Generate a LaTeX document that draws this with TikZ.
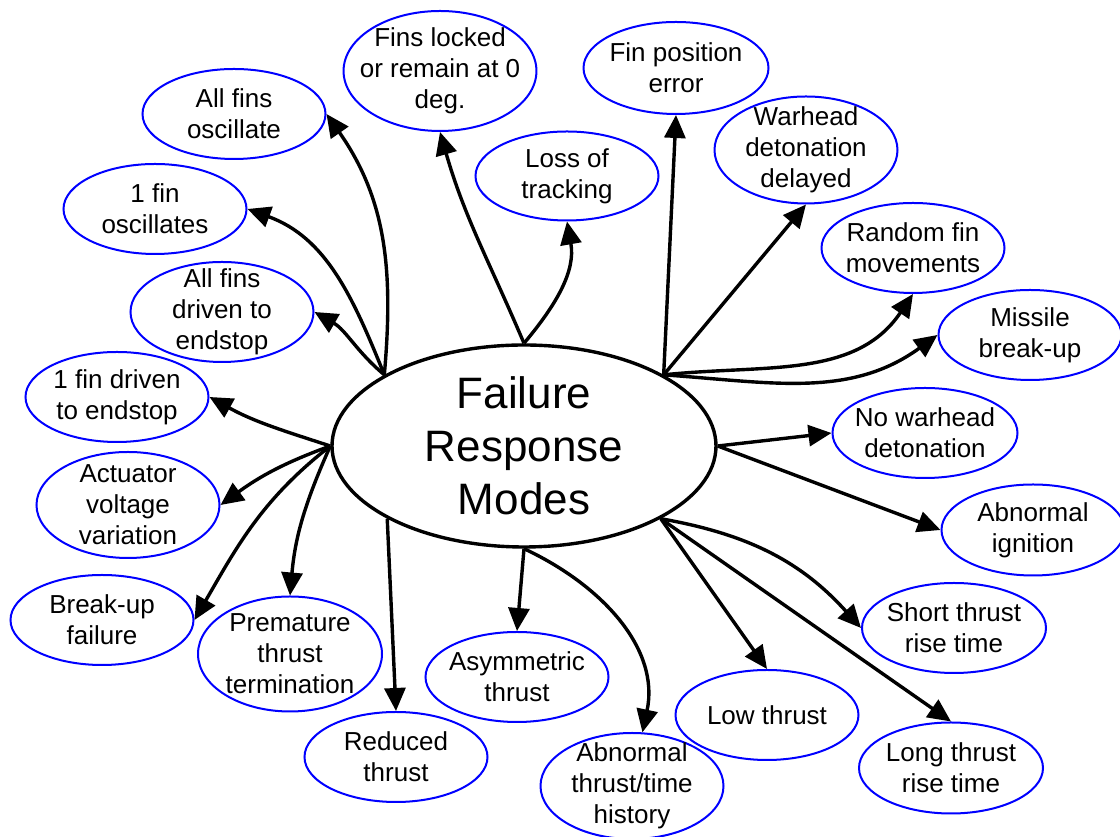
\documentclass[tikz,border=0pt]{standalone}
\usepackage{fontspec}
\setmainfont{Liberation Sans}
\usepackage{tikz}
\usetikzlibrary{shapes.geometric,arrows.meta}
\definecolor{ModeBlue}{HTML}{0000FF}

\begin{document}
\begin{tikzpicture}[x=1pt,y=1pt,
    mode/.style={ellipse, draw=ModeBlue, line width=2pt, inner xsep=-12pt, inner ysep=-10pt,
      minimum width=183pt, minimum height=90pt, align=center, font=\fontsize{26}{31}\selectfont},
    hub/.style={ellipse, draw, line width=3.4pt, inner sep=-10pt, minimum width=384pt,
      minimum height=202pt, align=center, font=\fontsize{44}{53}\selectfont},
    arr/.style={-{Triangle[length=23pt,width=21pt]}, line width=3.4pt}]
  \useasboundingbox (0,0) rectangle (1120,837);

  \node[hub] (fr) at (524,391) {Failure\\Response\\Modes};

  % upper half
  \node[mode, minimum width=192pt, minimum height=120pt] (locked) at (440,766) {Fins locked\\or remain at 0\\deg.};
  \node[mode, minimum width=185pt, minimum height=92pt] (finpos) at (676,769) {Fin position\\error};
  \node[mode] (allosc) at (234,723) {All fins\\oscillate};
  \node[mode] (onefin) at (155,628) {1 fin\\oscillates};
  \node[mode, minimum height=89pt] (track) at (567,661) {Loss of\\tracking};
  \node[mode, minimum height=107pt] (warhead) at (806,687) {Warhead\\detonation\\delayed};
  \node[mode] (random) at (913,589) {Random fin\\movements};
  \node[mode, minimum height=100pt] (alldriven) at (222,525) {All fins\\driven to\\endstop};
  \node[mode] (missile) at (1030,502) {Missile\\break-up};
  \node[mode] (onedriven) at (117,440) {1 fin driven\\to endstop};
  \node[mode, minimum width=185pt] (nowar) at (925,404) {No warhead\\detonation};

  % lower half
  \node[mode, minimum height=106pt] (actuator) at (128,332) {Actuator\\voltage\\variation};
  \node[mode, minimum height=91pt] (ignition) at (1033,307) {Abnormal\\ignition};
  \node[mode] (breakup) at (102,217) {Break-up\\failure};
  \node[mode, minimum width=184pt, minimum height=115pt] (premature) at (290,183) {Premature\\thrust\\termination};
  \node[mode, minimum width=184pt] (short) at (954,209) {Short thrust\\rise time};
  \node[mode] (asym) at (517,160) {Asymmetric\\thrust};
  \node[mode] (reduced) at (396,80) {Reduced\\thrust};
  \node[mode] (low) at (767,122) {Low thrust};
  \node[mode, minimum height=106pt] (history) at (632,51) {Abnormal\\thrust/time\\history};
  \node[mode, minimum width=184pt, minimum height=91pt] (long) at (951,69) {Long thrust\\rise time};

  % connectors
  \draw[arr] (fr.153) to[out=85,in=-55] (allosc.0);
  \draw[arr] (fr.153) to[out=112,in=-20] (onefin.0);
  \draw[arr] (fr.153) to[out=140,in=-30] (alldriven.0);
  \draw[arr] (fr.90) to[out=113,in=-74] (locked.-90);
  \draw[arr] (fr.90) to[out=50,in=-80] (track.-90);
  \draw[arr] (fr.27) -- (finpos.-90);
  \draw[arr] (fr.27) -- (warhead.-90);
  \draw[arr] (fr.27) to[out=6,in=-124] (random.-90);
  \draw[arr] (fr.27) to[out=-4,in=-144] (missile.180);
  \draw[arr] (fr.0) -- (nowar.180);
  \draw[arr] (fr.0) -- (ignition.180);
  \draw[arr] (fr.-28) to[out=-10,in=132] (short.180);
  \draw[arr] (fr.-28) -- (low.90);
  \draw[arr] (fr.-28) -- (long.90);
  \draw[arr] (fr.-90) -- (asym.90);
  \draw[arr] (fr.-90) to[out=-25,in=78] (history.79);
  \draw[arr] (fr.208) -- (reduced.90);
  \draw[arr] (fr.180) to[out=162,in=-29] (onedriven.0);
  \draw[arr] (fr.180) to[out=200,in=36] (actuator.0);
  \draw[arr] (fr.180) to[out=218,in=60] (breakup.0);
  \draw[arr] (fr.180) to[out=246,in=85] (premature.90);
\end{tikzpicture}
\end{document}
